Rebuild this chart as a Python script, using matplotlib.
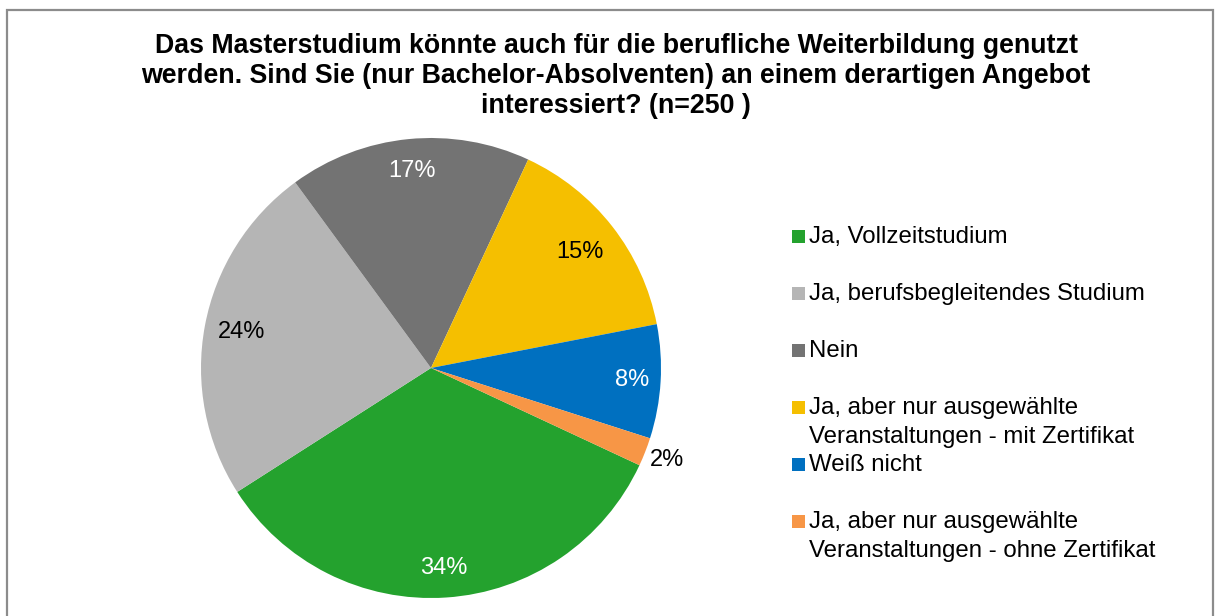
import matplotlib
matplotlib.use("Agg")
import matplotlib.pyplot as plt
from matplotlib.patches import Rectangle
import numpy as np

plt.rcParams['font.family'] = ['Liberation Sans', 'DejaVu Sans']

# Survey answers (share of respondents, %)
categories = [
    "Ja, Vollzeitstudium",
    "Ja, berufsbegleitendes Studium",
    "Nein",
    "Ja, aber nur ausgewählte\nVeranstaltungen - mit Zertifikat",
    "Weiß nicht",
    "Ja, aber nur ausgewählte\nVeranstaltungen - ohne Zertifikat",
]
values = [34, 24, 17, 15, 8, 2]
colors = ["#24A22E", "#B5B5B5", "#737373", "#F5BF00", "#0070C0", "#F79646"]
label_colors = ["white", "black", "white", "black", "white", "black"]
title = ("Das Masterstudium könnte auch für die berufliche Weiterbildung genutzt\n"
         "werden. Sind Sie (nur Bachelor-Absolventen) an einem derartigen Angebot\n"
         "interessiert? (n=250 )")

W, H = 1218, 616
fig = plt.figure(figsize=(W / 100, H / 100), dpi=100)
fig.patch.set_facecolor("white")


def fy(y_px):
    """Convert a pixel row (from the top) to a figure fraction."""
    return 1 - y_px / H


# outer chart frame
fig.add_artist(Rectangle((7 / W, -0.05), (1213 - 7) / W, (H - 10) / H + 0.05,
                         transform=fig.transFigure, fill=False,
                         edgecolor="#8C8C8C", linewidth=1.6))

# pie axes
cx, cy, r = 431, 368, 230
ax = fig.add_axes([(cx - r) / W, (H - cy - r) / H, 2 * r / W, 2 * r / H])
wedges, _ = ax.pie(values, colors=colors, startangle=-25, counterclock=False,
                   radius=1.0, wedgeprops=dict(linewidth=0))
ax.set_xlim(-1, 1)
ax.set_ylim(-1, 1)
ax.set_aspect("equal")
ax.axis("off")

# radial position of each percentage label (fraction of the radius)
label_dist = [0.87, 0.84, 0.86, 0.82, 0.875, 1.10]
for w, v, lc, d in zip(wedges, values, label_colors, label_dist):
    mid = np.deg2rad((w.theta1 + w.theta2) / 2)
    ax.text(d * np.cos(mid), d * np.sin(mid), f"{v}%",
            ha="center", va="center", fontsize=17, color=lc)

# title, one baseline per line
for k, line in enumerate(title.split("\n")):
    fig.text(616 / W, fy(53 + 30 * k), line, ha="center", va="baseline",
             fontsize=19.3, fontweight="bold")

# legend
lx, base0, step, lh = 792, 243, 57, 28.5
for i, (cat, col) in enumerate(zip(categories, colors)):
    b = base0 + i * step
    fig.add_artist(Rectangle((lx / W, fy(b - 0.5)), 13 / W, 13 / H,
                             transform=fig.transFigure, facecolor=col,
                             edgecolor="none"))
    for k, line in enumerate(cat.split("\n")):
        fig.text((lx + 17) / W, fy(b + lh * k), line, ha="left",
                 va="baseline", fontsize=17.3)

fig.savefig("out.png", dpi=100)
